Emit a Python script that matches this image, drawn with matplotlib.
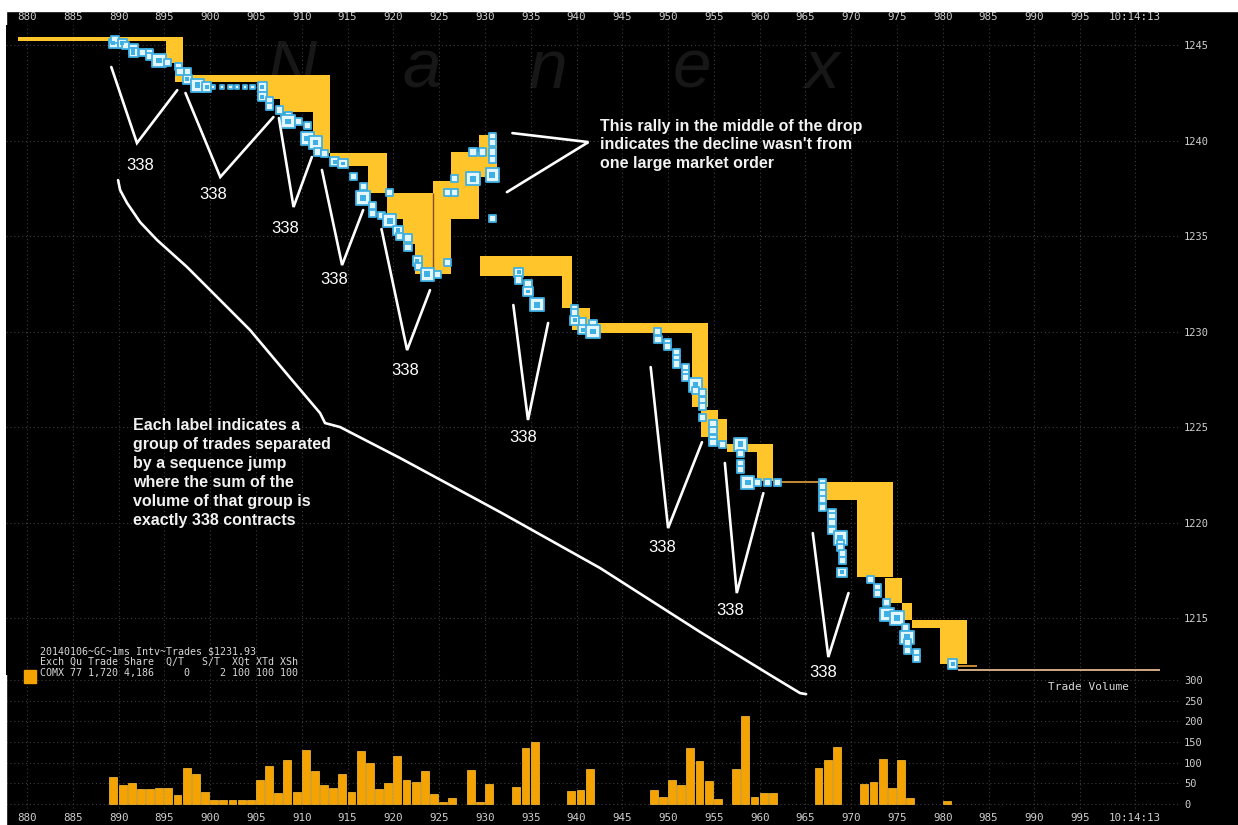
import matplotlib.pyplot as plt
from matplotlib.patches import Rectangle

W, H = 1238, 825

# ---- values ----
# x = millisecond counter on the time axis, y = gold price ($)

# yellow spread blocks: start, end, low, high
spread_x0 = [879.0, 895.2, 896.2, 897.0, 906.2, 907.6, 911.2, 913.1, 917.2, 919.3,
             921.0, 922.4, 924.3, 926.3, 929.3, 929.5, 938.4, 939.5, 941.5, 952.6,
             953.6, 955.5, 956.4, 959.7, 966.6, 970.6, 973.7, 975.55, 976.65, 979.7]
spread_x1 = [895.2, 896.2, 897.0, 906.2, 907.6, 911.2, 913.1, 917.2, 919.3, 921.0,
             922.4, 924.3, 926.3, 929.3, 931.3, 938.4, 939.5, 941.5, 952.6, 954.4,
             955.5, 956.4, 959.7, 961.5, 970.6, 974.6, 975.55, 976.65, 979.7, 982.65]
spread_lo = [1245.2, 1244.05, 1243.05, 1243.05, 1242.2, 1241.5, 1239.35, 1238.65, 1237.25, 1235.9,
             1234.6, 1233.0, 1233.0, 1235.9, 1238.1, 1232.9, 1231.25, 1230.1, 1229.95, 1226.05,
             1224.5, 1224.0, 1223.7, 1222.2, 1221.2, 1217.15, 1215.8, 1214.9, 1214.5, 1212.6]
spread_hi = [1245.4, 1245.4, 1245.4, 1243.45, 1243.45, 1243.45, 1243.45, 1239.35, 1239.35, 1237.25,
             1237.25, 1237.25, 1237.9, 1239.4, 1240.3, 1233.95, 1233.95, 1231.25, 1230.45, 1230.45,
             1225.9, 1225.4, 1224.1, 1224.1, 1222.15, 1222.15, 1217.1, 1215.8, 1214.9, 1214.9]

# zero-width spread segments
flat_x0 = [961.5, 981.7]
flat_x1 = [966.6, 983.75]
flat_y = [1222.12, 1212.5]
last_trade_x = [981.7, 1003.7]
last_trade_y = 1212.3

# trades (size code 0..3)
trade_x = [889.4, 889.6, 890.4, 890.7, 891.6, 891.6, 892.6, 893.4, 893.4, 894.4,
           895.3, 896.5, 896.7, 897.5, 897.5, 898.6, 898.6, 899.6, 900.3, 901.3,
           902.2, 902.9, 903.8, 904.6, 905.7, 905.7, 906.5, 906.5, 907.6, 908.5,
           908.5, 909.6, 910.6, 910.6, 911.5, 911.7, 912.5, 913.6, 914.5, 915.6,
           916.7, 916.7, 917.7, 917.7, 918.7, 919.6, 920.5, 920.7, 921.6, 921.6,
           922.6, 922.7, 923.7, 924.8, 919.6,
           925.9, 925.9, 926.7, 926.7, 928.7, 928.7, 929.7, 930.8, 930.8, 930.8,
           930.8, 930.8, 930.8,
           933.7, 933.7, 934.7, 934.7, 935.7, 939.8, 939.8, 939.8, 940.7, 940.7,
           941.8, 941.8,
           948.8, 948.9, 949.9, 949.9, 950.9, 950.9, 950.9, 951.9, 951.9, 951.9,
           953.0, 953.0, 953.8, 953.8, 953.8, 953.8, 954.9, 954.9, 954.9, 954.9, 955.9,
           957.9, 957.9, 957.9, 957.9, 958.7, 959.8, 960.9, 961.9,
           966.9, 966.9, 966.9, 966.9, 966.9, 967.9, 967.9, 967.9, 967.9, 968.8,
           968.8, 968.8, 969.0, 969.0, 969.0,
           972.1, 972.9, 972.9, 973.9, 973.9, 975.0, 975.9, 976.1, 976.1, 976.1,
           977.1, 977.1, 981.1]
trade_p = [1245.1, 1245.3, 1245.1, 1245.0, 1244.8, 1244.6, 1244.6, 1244.6, 1244.4, 1244.2,
           1244.1, 1243.9, 1243.6, 1243.6, 1243.2, 1243.0, 1242.9, 1242.8, 1242.8, 1242.8,
           1242.8, 1242.8, 1242.8, 1242.8, 1242.8, 1242.3, 1242.1, 1241.8, 1241.6, 1241.3,
           1241.0, 1241.0, 1240.8, 1240.1, 1239.9, 1239.4, 1239.3, 1238.9, 1238.8, 1238.1,
           1237.6, 1237.0, 1236.6, 1236.2, 1236.1, 1235.8, 1235.3, 1235.0, 1234.9, 1234.4,
           1233.7, 1233.4, 1233.0, 1233.0, 1237.3,
           1233.6, 1237.3, 1237.3, 1238.0, 1238.0, 1239.4, 1239.4, 1240.2, 1239.9, 1239.4,
           1239.0, 1238.2, 1235.9,
           1233.1, 1232.7, 1232.5, 1232.1, 1231.4, 1231.2, 1231.0, 1230.6, 1230.5, 1230.1,
           1230.4, 1230.0,
           1230.0, 1229.6, 1229.4, 1229.2, 1228.9, 1228.6, 1228.3, 1228.1, 1227.8, 1227.6,
           1227.2, 1226.9, 1226.8, 1226.4, 1226.1, 1225.5, 1225.2, 1224.8, 1224.4, 1224.2, 1224.1,
           1224.1, 1223.6, 1223.1, 1222.8, 1222.1, 1222.1, 1222.1, 1222.1,
           1222.1, 1221.9, 1221.5, 1221.2, 1220.8, 1220.5, 1220.3, 1220.0, 1219.6, 1219.2,
           1218.9, 1218.7, 1218.4, 1218.0, 1217.4,
           1217.0, 1216.6, 1216.3, 1215.8, 1215.2, 1215.0, 1214.5, 1214.0, 1213.7, 1213.3,
           1213.2, 1212.9, 1212.6]
trade_sz = [2, 1, 2, 1, 2, 2, 1, 1, 1, 3,
            1, 1, 1, 1, 2, 1, 3, 2, 0, 0,
            0, 0, 0, 0, 2, 2, 1, 1, 1, 1,
            3, 1, 1, 3, 3, 1, 1, 2, 2, 1,
            1, 3, 1, 1, 1, 3, 2, 1, 1, 1,
            2, 1, 3, 1, 1,
            1, 1, 1, 1, 3, 1, 1, 1, 1, 1,
            1, 3, 1,
            2, 1, 1, 2, 3, 1, 1, 2, 1, 2,
            1, 3,
            1, 1, 1, 1, 1, 1, 1, 1, 1, 1,
            3, 1, 1, 1, 1, 1, 1, 1, 1, 1, 1,
            3, 1, 1, 1, 3, 1, 1, 1,
            1, 1, 1, 1, 1, 1, 1, 1, 1, 3,
            1, 1, 1, 1, 2,
            1, 1, 1, 1, 3, 3, 1, 3, 1, 1,
            1, 1, 2]

# trade volume per 1 ms slot (slot start, contracts)
vol_t = [889, 890, 891, 892, 893, 894, 895, 896, 897, 898, 899, 900, 901, 902, 903, 904,
         905, 906, 907, 908, 909, 910, 911, 912, 913, 914, 915, 916, 917, 918, 919, 920,
         921, 922, 923, 924, 925, 926, 928, 929, 930, 933, 934, 935, 939, 940, 941,
         948, 949, 950, 951, 952, 953, 954, 955, 957, 958, 959, 960, 961,
         966, 967, 968, 971, 972, 973, 974, 975, 976, 980]
vol_v = [65, 46, 50, 36, 36, 38, 38, 21, 88, 72, 30, 10, 10, 10, 10, 10,
         58, 92, 26, 107, 30, 131, 80, 45, 38, 72, 30, 128, 100, 36, 50, 117,
         58, 53, 80, 24, 5, 14, 82, 5, 48, 41, 135, 150, 31, 34, 85,
         34, 16, 58, 46, 136, 105, 56, 11, 85, 212, 18, 26, 26,
         88, 107, 138, 49, 53, 109, 38, 106, 14, 6]

time_ticks = list(range(880, 1000, 5)) + [1001]
time_labels = [str(t) for t in range(880, 1000, 5)] + ['10:14:13']
price_ticks = [1215, 1220, 1225, 1230, 1235, 1240, 1245]
vol_ticks = [0, 50, 100, 150, 200, 250, 300]

# callouts: each "V" marks one 338-contract group
v_x = [[889.2, 892.0, 896.4], [897.3, 901.1, 906.9], [907.5, 909.1, 911.1],
       [912.2, 914.4, 916.7], [918.7, 921.5, 924.0], [933.1, 934.7, 936.9],
       [948.1, 950.0, 953.7], [956.2, 957.5, 960.4], [965.8, 967.5, 969.7]]
v_y = [[1243.85, 1239.87, 1242.64], [1242.49, 1238.09, 1241.23], [1241.18, 1236.52, 1239.14],
       [1238.46, 1233.48, 1236.36], [1235.37, 1229.03, 1232.17], [1231.39, 1225.37, 1230.45],
       [1228.14, 1219.71, 1224.21], [1223.12, 1216.31, 1221.54], [1219.45, 1212.96, 1216.31]]
lab_x = [892.3, 900.3, 908.2, 913.5, 921.3, 934.2, 949.4, 956.8, 966.9]
lab_y = [1238.72, 1237.2, 1235.42, 1232.75, 1227.98, 1224.48, 1218.72, 1215.42, 1212.17]

rally_x = [933.0, 941.3, 932.4]
rally_y = [1240.39, 1239.92, 1237.3]

curve_x = [889.94, 890.16, 890.92, 892.34, 894.2, 897.47, 900.31, 904.35, 908.94,
           912.0, 912.54, 914.18, 920.73, 931.65, 942.57, 953.5, 961.14, 964.42, 965.07]
curve_y = [1237.93, 1237.41, 1236.73, 1235.73, 1234.79, 1233.38, 1232.02, 1230.08, 1227.46,
           1225.73, 1225.21, 1225.0, 1223.38, 1220.55, 1217.62, 1214.27, 1212.02, 1211.07, 1211.02]

# ---- figure ----
def fx(px):
    return px / W


def fy(py):
    return 1 - py / H


fig = plt.figure(figsize=(W / 100, H / 100), dpi=100, facecolor='black')
fig.patches.append(Rectangle((0, fy(11)), 1, 11 / H, transform=fig.transFigure,
                             color='white', zorder=0))
fig.patches.append(Rectangle((0, 0), fx(6), 1, transform=fig.transFigure,
                             color='white', zorder=0))

ax_v = fig.add_axes([fx(6), fy(812), fx(1174), 137 / H])
ax_p = fig.add_axes([fx(6), fy(675), fx(1174), 650 / H])
ax_p.set_zorder(2)   # callouts spill over the volume panel

grid_kw = dict(color='#3c3c3c', linestyle=(0, (1, 2.5)), linewidth=0.8)
tick_col = '#cfcfcf'
for ax in (ax_p, ax_v):
    ax.set_facecolor('black')
    for s in ax.spines.values():
        s.set_visible(False)
    ax.set_xlim(877.7, 1005.9)
    ax.set_xticks(time_ticks)
    ax.set_axisbelow(True)
    ax.grid(True, **grid_kw)
    ax.yaxis.tick_right()
    ax.tick_params(length=0, colors=tick_col)

ax_p.set_ylim(1212.02, 1246.05)
ax_p.set_yticks(price_ticks)
ax_p.set_yticklabels([str(p) for p in price_ticks], family='DejaVu Sans Mono', fontsize=7.5)
ax_p.xaxis.tick_top()
ax_p.set_xticklabels(time_labels, family='DejaVu Sans Mono', fontsize=7.8)
ax_p.tick_params(axis='x', pad=2)
ax_p.tick_params(axis='y', pad=3)

ax_v.set_ylim(-19.4, 312)
ax_v.set_yticks(vol_ticks)
ax_v.set_yticklabels([str(v) for v in vol_ticks], family='DejaVu Sans Mono', fontsize=7.5)
ax_v.set_xticklabels(time_labels, family='DejaVu Sans Mono', fontsize=7.8)
ax_v.tick_params(axis='x', pad=1)
ax_v.tick_params(axis='y', pad=3)

# watermark
for ch, px in zip('Nanex', [292, 422, 548, 692, 822]):
    ax_p.text(fx(px), fy(70), ch, transform=fig.transFigure, fontsize=50,
              style='italic', family='Liberation Sans', color='#171717',
              ha='center', va='center', zorder=0.5)

# spread blocks
spread_w = [b - a for a, b in zip(spread_x0, spread_x1)]
spread_h = [b - a for a, b in zip(spread_lo, spread_hi)]
ax_p.bar(spread_x0, spread_h, width=spread_w, bottom=spread_lo, align='edge',
         color='#FFC52A', linewidth=0, zorder=2)
ax_p.hlines(flat_y, flat_x0, flat_x1, color='#E9A23C', linewidth=1.2, zorder=2)
ax_p.hlines(last_trade_y, last_trade_x[0], last_trade_x[1], color='#F3C79A',
            linewidth=1.2, zorder=2)
ax_p.vlines(924.3, 1233.0, 1237.25, color='#8a4b20', linewidth=1, zorder=2)

# trades
sz_map = {0: 10, 1: 26, 2: 44, 3: 92}
sizes = [sz_map[s] for s in trade_sz]
ax_p.scatter(trade_x, trade_p, s=sizes, marker='s', facecolor='#e4f6fd',
             edgecolor='#3fb0e3', linewidth=1.3, zorder=3)
big_x = [x for x, s in zip(trade_x, trade_sz) if s >= 2]
big_p = [p for p, s in zip(trade_p, trade_sz) if s >= 2]
big_s = [sz_map[s] * 0.18 for s in trade_sz if s >= 2]
ax_p.scatter(big_x, big_p, s=big_s, marker='s', color='#3fb0e3', linewidth=0, zorder=4)

# volume bars
ax_v.bar(vol_t, vol_v, width=0.86, align='edge', color='#F4A300',
         edgecolor='#FFC23F', linewidth=0.5, zorder=2)

# callouts
line_kw = dict(color='white', linewidth=1.9, solid_capstyle='round',
               solid_joinstyle='miter', zorder=5, clip_on=False)
for xs, ys in zip(v_x, v_y):
    ax_p.plot(xs, ys, **line_kw)
for x, y in zip(lab_x, lab_y):
    ax_p.text(x, y, '338', color='white', fontsize=12, family='Liberation Sans',
              ha='center', va='center', zorder=6, clip_on=False)
ax_p.plot(rally_x, rally_y, **line_kw)
ax_p.plot(curve_x, curve_y, **line_kw)

note_kw = dict(color='#f2f2f2', fontsize=11.5, family='Liberation Sans', weight='bold',
               ha='left', va='top', linespacing=1.32, zorder=6)
ax_p.text(942.6, 1241.15,
          "This rally in the middle of the drop\n"
          "indicates the decline wasn't from\n"
          "one large market order", **note_kw)
ax_p.text(891.6, 1225.45,
          "Each label indicates a\n"
          "group of trades separated\n"
          "by a sequence jump\n"
          "where the sum of the\n"
          "volume of that group is\n"
          "exactly 338 contracts", **note_kw)

# legend block and panel label
fig.text(fx(40), fy(646),
         "20140106~GC~1ms Intv~Trades $1231.93\n"
         "Exch Qu Trade Share  Q/T   S/T  XQt XTd XSh\n"
         "COMX 77 1,720 4,186     0     2 100 100 100",
         color='#d8d8d8', fontsize=7.2, family='DejaVu Sans Mono',
         ha='left', va='top', linespacing=1.1, zorder=5)
fig.patches.append(Rectangle((fx(24), fy(683)), 12 / W, 13 / H,
                             transform=fig.transFigure, color='#F4A300', zorder=5))
fig.text(fx(1088), fy(687), 'Trade Volume', color='#d8d8d8', fontsize=8,
         family='DejaVu Sans Mono', ha='center', va='center', zorder=5)

fig.savefig('out.png', dpi=100, facecolor=fig.get_facecolor())
